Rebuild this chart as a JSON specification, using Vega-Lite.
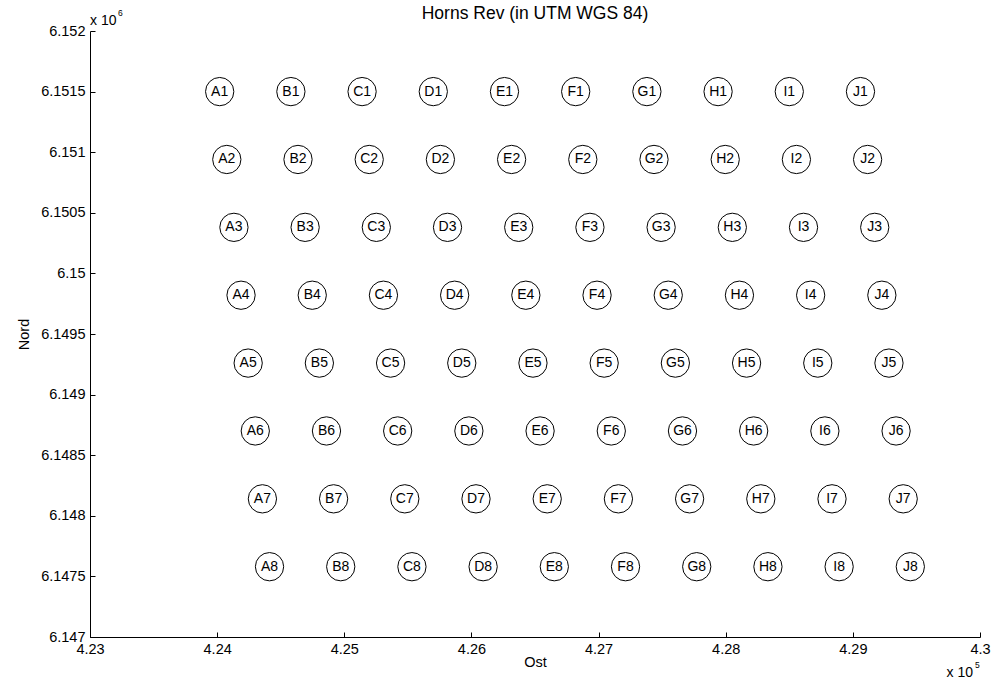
{
  "$schema": "https://vega.github.io/schema/vega-lite/v6.json",
  "width": 890,
  "height": 606,
  "autosize": {"type": "none"},
  "padding": {"left": 90, "top": 31, "right": 18, "bottom": 44},
  "background": "white",
  "config": {
    "view": {"stroke": null},
    "font": "Liberation Sans",
    "axis": {
      "grid": false,
      "domainColor": "black",
      "domainWidth": 1,
      "tickColor": "black",
      "tickSize": -5,
      "labelColor": "black",
      "labelFontSize": 14.5,
      "labelFont": "Liberation Sans",
      "labelFlush": false,
      "labelOverlap": false,
      "titleFont": "Liberation Sans",
      "titleFontSize": 14.5,
      "titleFontWeight": "normal",
      "titleColor": "black"
    }
  },
  "title": {"text": "Horns Rev (in UTM WGS 84)", "fontSize": 17.5, "fontWeight": "normal", "color": "black", "font": "Liberation Sans", "offset": 0, "dy": 13},
  "datasets": {
    "turbines": [
      {"id": "A1", "x": 424020, "y": 6151500}, {"id": "B1", "x": 424580, "y": 6151500}, {"id": "C1", "x": 425140, "y": 6151500}, {"id": "D1", "x": 425700, "y": 6151500}, {"id": "E1", "x": 426260, "y": 6151500}, {"id": "F1", "x": 426820, "y": 6151500}, {"id": "G1", "x": 427380, "y": 6151500}, {"id": "H1", "x": 427940, "y": 6151500}, {"id": "I1", "x": 428500, "y": 6151500}, {"id": "J1", "x": 429060, "y": 6151500},
      {"id": "A2", "x": 424076, "y": 6150940}, {"id": "B2", "x": 424636, "y": 6150940}, {"id": "C2", "x": 425196, "y": 6150940}, {"id": "D2", "x": 425756, "y": 6150940}, {"id": "E2", "x": 426316, "y": 6150940}, {"id": "F2", "x": 426876, "y": 6150940}, {"id": "G2", "x": 427436, "y": 6150940}, {"id": "H2", "x": 427996, "y": 6150940}, {"id": "I2", "x": 428556, "y": 6150940}, {"id": "J2", "x": 429116, "y": 6150940},
      {"id": "A3", "x": 424132, "y": 6150380}, {"id": "B3", "x": 424692, "y": 6150380}, {"id": "C3", "x": 425252, "y": 6150380}, {"id": "D3", "x": 425812, "y": 6150380}, {"id": "E3", "x": 426372, "y": 6150380}, {"id": "F3", "x": 426932, "y": 6150380}, {"id": "G3", "x": 427492, "y": 6150380}, {"id": "H3", "x": 428052, "y": 6150380}, {"id": "I3", "x": 428612, "y": 6150380}, {"id": "J3", "x": 429172, "y": 6150380},
      {"id": "A4", "x": 424188, "y": 6149820}, {"id": "B4", "x": 424748, "y": 6149820}, {"id": "C4", "x": 425308, "y": 6149820}, {"id": "D4", "x": 425868, "y": 6149820}, {"id": "E4", "x": 426428, "y": 6149820}, {"id": "F4", "x": 426988, "y": 6149820}, {"id": "G4", "x": 427548, "y": 6149820}, {"id": "H4", "x": 428108, "y": 6149820}, {"id": "I4", "x": 428668, "y": 6149820}, {"id": "J4", "x": 429228, "y": 6149820},
      {"id": "A5", "x": 424244, "y": 6149260}, {"id": "B5", "x": 424804, "y": 6149260}, {"id": "C5", "x": 425364, "y": 6149260}, {"id": "D5", "x": 425924, "y": 6149260}, {"id": "E5", "x": 426484, "y": 6149260}, {"id": "F5", "x": 427044, "y": 6149260}, {"id": "G5", "x": 427604, "y": 6149260}, {"id": "H5", "x": 428164, "y": 6149260}, {"id": "I5", "x": 428724, "y": 6149260}, {"id": "J5", "x": 429284, "y": 6149260},
      {"id": "A6", "x": 424300, "y": 6148700}, {"id": "B6", "x": 424860, "y": 6148700}, {"id": "C6", "x": 425420, "y": 6148700}, {"id": "D6", "x": 425980, "y": 6148700}, {"id": "E6", "x": 426540, "y": 6148700}, {"id": "F6", "x": 427100, "y": 6148700}, {"id": "G6", "x": 427660, "y": 6148700}, {"id": "H6", "x": 428220, "y": 6148700}, {"id": "I6", "x": 428780, "y": 6148700}, {"id": "J6", "x": 429340, "y": 6148700},
      {"id": "A7", "x": 424356, "y": 6148140}, {"id": "B7", "x": 424916, "y": 6148140}, {"id": "C7", "x": 425476, "y": 6148140}, {"id": "D7", "x": 426036, "y": 6148140}, {"id": "E7", "x": 426596, "y": 6148140}, {"id": "F7", "x": 427156, "y": 6148140}, {"id": "G7", "x": 427716, "y": 6148140}, {"id": "H7", "x": 428276, "y": 6148140}, {"id": "I7", "x": 428836, "y": 6148140}, {"id": "J7", "x": 429396, "y": 6148140},
      {"id": "A8", "x": 424412, "y": 6147580}, {"id": "B8", "x": 424972, "y": 6147580}, {"id": "C8", "x": 425532, "y": 6147580}, {"id": "D8", "x": 426092, "y": 6147580}, {"id": "E8", "x": 426652, "y": 6147580}, {"id": "F8", "x": 427212, "y": 6147580}, {"id": "G8", "x": 427772, "y": 6147580}, {"id": "H8", "x": 428332, "y": 6147580}, {"id": "I8", "x": 428892, "y": 6147580}, {"id": "J8", "x": 429452, "y": 6147580}
    ],
    "topLeft": [{"x": 423000, "y": 6152000}],
    "bottomRight": [{"x": 430000, "y": 6147000}]
  },
  "encoding": {
    "x": {
      "field": "x", "type": "quantitative",
      "scale": {"domain": [423000, 430000], "nice": false, "zero": false},
      "axis": {"title": "Ost", "values": [423000, 424000, 425000, 426000, 427000, 428000, 429000, 430000], "labelExpr": "format(datum.value/100000, '~g')", "labelPadding": 10, "titlePadding": 0}
    },
    "y": {
      "field": "y", "type": "quantitative",
      "scale": {"domain": [6147000, 6152000], "nice": false, "zero": false},
      "axis": {"title": "Nord", "values": [6147000, 6147500, 6148000, 6148500, 6149000, 6149500, 6150000, 6150500, 6151000, 6151500, 6152000], "labelExpr": "format(datum.value/1000000, '~g')", "labelPadding": 10, "titlePadding": 9}
    }
  },
  "layer": [
    {
      "data": {"name": "turbines"},
      "mark": {"type": "point", "shape": "circle", "filled": false, "stroke": "black", "strokeWidth": 1, "size": 800, "opacity": 1}
    },
    {
      "data": {"name": "turbines"},
      "mark": {"type": "text", "fontSize": 14, "color": "black", "font": "Liberation Sans", "baseline": "middle", "align": "center"},
      "encoding": {"text": {"field": "id"}}
    },
    {
      "data": {"name": "topLeft"},
      "mark": {"type": "text", "text": "x 10", "fontSize": 14, "color": "black", "align": "left", "baseline": "alphabetic", "dy": -6}
    },
    {
      "data": {"name": "topLeft"},
      "mark": {"type": "text", "text": "6", "fontSize": 8.5, "color": "black", "align": "left", "baseline": "alphabetic", "dx": 28, "dy": -15}
    },
    {
      "data": {"name": "bottomRight"},
      "mark": {"type": "text", "text": "x 10", "fontSize": 14, "color": "black", "align": "right", "baseline": "alphabetic", "dx": -7, "dy": 40}
    },
    {
      "data": {"name": "bottomRight"},
      "mark": {"type": "text", "text": "5", "fontSize": 8.5, "color": "black", "align": "left", "baseline": "alphabetic", "dx": -5, "dy": 31}
    }
  ]
}
